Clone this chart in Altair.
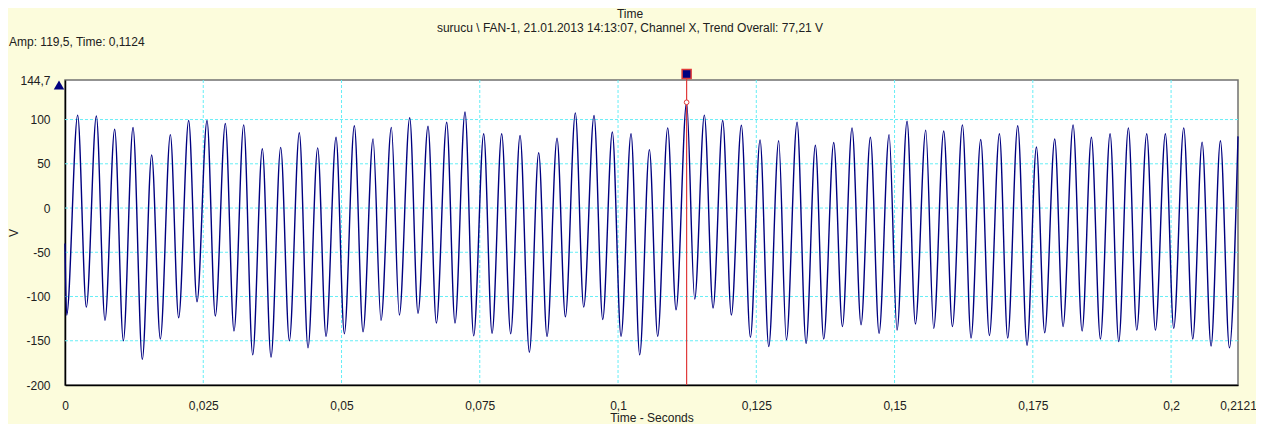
import altair as alt
import pandas as pd

# ---- data (time in s, amplitude in V) ----
t_sec = [0.0, 0.0003, 0.00229, 0.00386, 0.00567, 0.00723, 0.00898, 0.01055, 0.01230, 0.01398,
         0.01567, 0.01724, 0.01905, 0.02055, 0.02236, 0.02387, 0.02568, 0.02718, 0.02899, 0.03056,
         0.03231, 0.03394, 0.03568, 0.03725, 0.03900, 0.04057, 0.04237,
         0.04394, 0.04569, 0.04720, 0.04901, 0.05051, 0.05232, 0.05389, 0.05570, 0.05714, 0.05901,
         0.06046, 0.06233, 0.06383, 0.06564, 0.06715, 0.06902, 0.07052, 0.07233, 0.07390, 0.07571,
         0.07722, 0.07896, 0.08059, 0.08228, 0.08397,
         0.08565, 0.08716, 0.08897, 0.09048, 0.09228, 0.09379, 0.09566, 0.09723, 0.09897, 0.10054,
         0.10235, 0.10392, 0.10567, 0.10717, 0.10898, 0.11049, 0.1124, 0.11386, 0.11561, 0.11718,
         0.11893, 0.12049, 0.12230, 0.12393, 0.12568, 0.12725,
         0.12905, 0.13044, 0.13237, 0.13400, 0.13568, 0.13719, 0.13900, 0.14057, 0.14231, 0.14394,
         0.14563, 0.14720, 0.14901, 0.15045, 0.15226, 0.15377, 0.15564, 0.15708, 0.15889, 0.16046,
         0.16227, 0.16383, 0.16558, 0.16715, 0.16896,
         0.17046, 0.17227, 0.17396, 0.17565, 0.17715, 0.17896, 0.18047, 0.18228, 0.18391, 0.18559,
         0.18722, 0.18897, 0.19054, 0.19228, 0.19379, 0.19560, 0.19717, 0.19897, 0.20048, 0.20229,
         0.20392, 0.20561, 0.20723, 0.20892, 0.21055, 0.2121]

amp_v = [-40, -121, 105, -112, 104, -127, 89, -150, 91, -171,
         60, -148, 83, -124, 99, -106, 99, -122, 95.5, -139,
         94, -166, 67, -168.5, 68.5, -150, 85,
         -158, 68, -145, 80, -142, 93, -140, 78, -127, 91,
         -121, 102, -119, 92.5, -130, 97, -130, 108.6, -144.5, 84,
         -141.6, 84, -142, 82, -163,
         62.5, -145, 79, -123, 107.5, -112, 104.5, -126, 86, -145,
         84, -166, 66, -145, 90.6, -115, 119.5, -103, 105, -113,
         99, -121, 93.6, -146, 77, -156.5,
         76, -149, 97, -153, 71, -148, 74, -134, 90.6, -132,
         80, -141.6, 83, -138, 98, -131, 88, -136, 87, -134,
         94, -147, 77.5, -144, 84,
         -147, 93, -155, 69, -141, 78, -134, 94, -139, 80,
         -148, 84, -151, 90.6, -138, 84, -138, 84, -136, 90.6,
         -148, 74.5, -156, 76, -158, 81]

x_ticks = [0, 0.025, 0.05, 0.075, 0.1, 0.125, 0.15, 0.175, 0.2, 0.2121]
y_ticks = [-200, -150, -100, -50, 0, 50, 100, 144.7]
x_grid = [0.025, 0.05, 0.075, 0.1, 0.125, 0.15, 0.175, 0.2]
y_grid = [-150, -100, -50, 0, 50, 100]
x_domain = [0, 0.2121]
y_domain = [-200, 144.7]

cursor_time = [0.1124]
cursor_amp = [119.5]

title_text = ["Time"]
subtitle_text = ["surucu \\ FAN-1, 21.01.2013 14:13:07, Channel X, Trend Overall: 77,21 V"]
readout_text = ["Amp: 119,5, Time: 0,1124"]
x_title = "Time - Seconds"
y_title = "V"

# ---- styling ----
W, H = 1173, 305
FONT = "Liberation Sans"
NAVY = "#000080"
GRIDC = "#66EEF6"
RED = "#E03A3A"
TXT = "#202020"
BG = "#FCFCDC"

wave = pd.DataFrame({"t": t_sec, "v": amp_v})
xscale = alt.Scale(domain=x_domain, nice=False, zero=False)
yscale = alt.Scale(domain=y_domain, nice=False, zero=False)
label_expr = "replace(toString(datum.value), '.', ',')"

xgrid = alt.Chart(pd.DataFrame({"t": x_grid})).mark_rule(
    color=GRIDC, strokeDash=[3, 2], strokeWidth=1
).encode(x=alt.X("t:Q", scale=xscale))

ygrid = alt.Chart(pd.DataFrame({"v": y_grid})).mark_rule(
    color=GRIDC, strokeDash=[3, 2], strokeWidth=1
).encode(y=alt.Y("v:Q", scale=yscale))

line = alt.Chart(wave).mark_line(
    color=NAVY, strokeWidth=1.4, interpolate="monotone"
).encode(
    x=alt.X("t:Q", scale=xscale,
            axis=alt.Axis(values=x_ticks, labelExpr=label_expr, title=x_title,
                          grid=False, ticks=False, tickSize=0, labelPadding=15,
                          labelOverlap=False, labelFlush=False,
                          domainColor="#000000", domainWidth=1.5,
                          titleY=36, titleBaseline="alphabetic", titleFontWeight="normal")),
    y=alt.Y("v:Q", scale=yscale,
            axis=alt.Axis(values=y_ticks, labelExpr=label_expr, title=y_title,
                          grid=False, ticks=False, tickSize=0, labelPadding=15,
                          labelOverlap=False, labelFlush=False,
                          domainColor="#000000", domainWidth=1.5,
                          titleX=-48, titleY=H / 2, titleAngle=270,
                          titleBaseline="alphabetic", titleFontWeight="normal")),
)

cur = pd.DataFrame({"t": cursor_time, "v": cursor_amp})

cursor_rule = alt.Chart(cur).mark_rule(color=RED, strokeWidth=1.2).encode(
    x=alt.X("t:Q", scale=xscale), y=alt.value(-8), y2=alt.value(H)
)
cursor_dot = alt.Chart(cur).mark_point(
    shape="circle", size=22, filled=True, fill="white", stroke=RED, strokeWidth=1, opacity=1
).encode(x=alt.X("t:Q", scale=xscale), y=alt.Y("v:Q", scale=yscale))
cursor_box = alt.Chart(cur).mark_point(
    shape="square", size=81, filled=True, fill=NAVY, stroke=RED, strokeWidth=1.5, opacity=1
).encode(x=alt.X("t:Q", scale=xscale), y=alt.value(-6))

marker = alt.Chart(cur).mark_point(
    shape="triangle-up", size=110, filled=True, color=NAVY, opacity=1
).encode(x=alt.value(-6), y=alt.value(5))

t1 = alt.Chart(pd.DataFrame({"s": title_text})).mark_text(
    font=FONT, fontSize=12, color=TXT, align="center", baseline="alphabetic"
).encode(text="s:N", x=alt.value(565), y=alt.value(-62))
t2 = alt.Chart(pd.DataFrame({"s": subtitle_text})).mark_text(
    font=FONT, fontSize=12, color=TXT, align="center", baseline="alphabetic"
).encode(text="s:N", x=alt.value(565), y=alt.value(-48.5))
t3 = alt.Chart(pd.DataFrame({"s": readout_text})).mark_text(
    font=FONT, fontSize=12, color=TXT, align="left", baseline="alphabetic"
).encode(text="s:N", x=alt.value(-56), y=alt.value(-34))

chart = alt.layer(
    xgrid, ygrid, line, cursor_rule, cursor_dot, cursor_box, marker, t1, t2, t3
).properties(
    width=W, height=H,
    autosize=alt.AutoSizeParams(type="none"),
    padding={"left": 57, "top": 72, "right": 18, "bottom": 39},
    background=BG,
).configure_view(
    fill="white", stroke="#707070", strokeWidth=1.5
).configure_axis(
    labelFont=FONT, titleFont=FONT, labelFontSize=12, titleFontSize=12,
    labelColor=TXT, titleColor=TXT
)

chart.save("out.html", embed_options={"renderer": "svg", "actions": False})
